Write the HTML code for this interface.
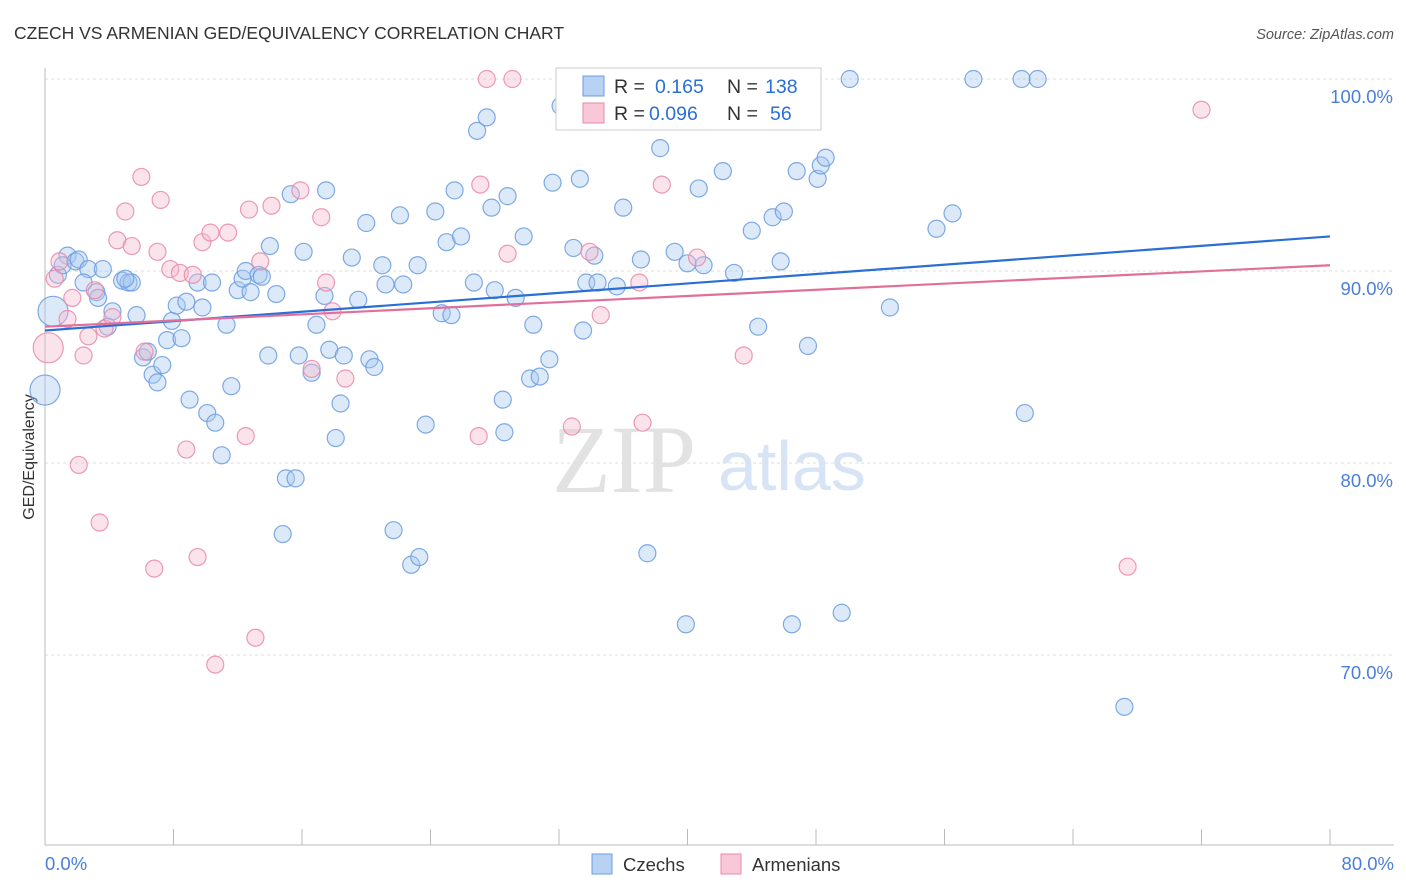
<!DOCTYPE html>
<html><head><meta charset="utf-8">
<style>
body{margin:0;background:#fff;font-family:"Liberation Sans",sans-serif;}
#wrap{position:relative;width:1406px;height:892px;overflow:hidden;}
</style></head>
<body>
<div id="wrap">
<svg id="svg" width="1406" height="892" xmlns="http://www.w3.org/2000/svg">
<text x="14" y="39" font-size="17.5" fill="#333">CZECH VS ARMENIAN GED/EQUIVALENCY CORRELATION CHART</text>
<text x="1394" y="39" font-size="14.5" fill="#555" font-style="italic" text-anchor="end">Source: ZipAtlas.com</text>
<text x="34" y="457" font-size="16" fill="#333" text-anchor="middle" transform="rotate(-90 34 457)">GED/Equivalency</text>
<g>
<text x="552" y="492" font-size="96" fill="#e2e2e2" font-family="Liberation Serif,serif">ZIP</text>
<text x="718" y="490" font-size="70" fill="#d6e4f5">atlas</text>
</g>
<g id="grid"></g>
<g id="pts"></g>
<g id="lines"></g>
<g>
<rect x="556" y="68" width="265" height="62" fill="#fff" stroke="#ccc"/>
<rect x="583" y="76" width="21" height="20" fill="#b8d2f4" stroke="#6a9be0"/>
<text x="614" y="93" font-size="19.5" fill="#333">R = </text>
<text x="655" y="93" font-size="19.5" fill="#2a6fd6">0.165</text>
<text x="727" y="93" font-size="19.5" fill="#333">N = </text>
<text x="765" y="93" font-size="19.5" fill="#2a6fd6">138</text>
<rect x="583" y="103" width="21" height="20" fill="#f8c8d8" stroke="#e88aa8"/>
<text x="614" y="120" font-size="19.5" fill="#333">R = </text>
<text x="649" y="120" font-size="19.5" fill="#2a6fd6">0.096</text>
<text x="727" y="120" font-size="19.5" fill="#333">N = </text>
<text x="770" y="120" font-size="19.5" fill="#2a6fd6">56</text>
</g>
<g>
<rect x="592" y="854" width="20" height="20" fill="#b8d2f4" stroke="#6a9be0"/>
<text x="623" y="871" font-size="18.5" fill="#333">Czechs</text>
<rect x="721" y="854" width="20" height="20" fill="#f8c8d8" stroke="#e88aa8"/>
<text x="752" y="871" font-size="18.5" fill="#333">Armenians</text>
</g>
</svg>
</div>
<script>
const yTicks=[100,90,80,70];
const yTickLabels=["100.0%","90.0%","80.0%","70.0%"];
const xTickCount=10;
const xLabels=["0.0%","80.0%"];
const czX=[0.5,0,0.8,1.4,1.1,1.9,2.1,2.7,2.4,3.2,3.3,3.6,4.2,3.9,4.8,5.2,5.4,5.0,5.7,6.1,6.4,6.7,7.0,7.3,7.6,7.9,8.2,8.5,8.8,9.0,9.5,9.8,10.1,10.4,10.6,11.0,11.3,11.6,12.0,12.3,12.5,12.8,13.3,13.5,13.9,14.0,14.4,14.8,15.0,15.3,15.6,15.8,16.1,16.6,16.9,17.4,17.5,17.7,18.1,18.4,18.6,19.1,19.5,20.0,20.2,20.5,21.0,21.2,21.7,22.1,22.3,22.8,23.2,23.3,23.7,24.3,24.7,25.0,25.3,25.5,25.9,26.7,26.9,27.5,27.8,28.0,28.5,28.6,28.8,29.3,29.8,30.2,30.4,30.8,31.4,31.6,32.1,32.9,33.3,33.5,33.7,34.2,34.4,35.6,36.0,36.1,37.1,37.5,38.3,39.2,39.9,40.0,40.7,41.0,42.2,42.9,44.0,44.4,45.3,45.8,46.0,46.5,46.8,47.5,48.1,48.3,48.6,49.6,50.1,52.6,55.5,56.5,57.8,60.8,61.0,61.8,67.2];
const czY=[87.9,83.8,89.8,90.8,90.3,90.5,90.6,90.1,89.4,88.9,88.6,90.1,87.9,87.1,89.5,89.4,89.4,89.6,87.7,85.5,85.8,84.6,84.2,85.1,86.4,87.4,88.2,86.5,88.4,83.3,89.4,88.1,82.6,89.4,82.1,80.4,87.2,84.0,89.0,89.6,90.0,88.9,89.8,89.7,85.6,91.3,88.8,76.3,79.2,94.0,79.2,85.6,91.0,84.7,87.2,88.7,94.2,85.9,81.3,83.1,85.6,90.7,88.5,92.5,85.4,85.0,90.3,89.3,76.5,92.9,89.3,74.7,90.3,75.1,82.0,93.1,87.8,91.5,87.7,94.2,91.8,89.4,97.3,98.0,93.3,89.0,83.3,81.6,93.9,88.6,91.8,84.4,87.2,84.5,85.4,94.6,98.6,91.2,94.8,86.9,89.4,90.8,89.4,89.2,93.3,100,90.6,75.3,96.4,91.0,71.6,90.4,94.3,90.3,95.2,89.9,92.1,87.1,92.8,90.5,93.1,71.6,95.2,86.1,94.8,95.5,95.9,72.2,100,88.1,92.2,93.0,100,100,82.6,100,67.3];
const arX=[0.2,0.6,0.9,1.4,1.7,2.1,2.7,2.4,3.1,3.4,3.7,4.2,4.5,5.0,5.4,6.0,6.2,6.8,7.0,7.2,7.8,8.4,8.8,9.2,9.5,9.8,10.3,10.6,11.4,12.5,12.7,13.1,13.4,14.1,15.9,16.6,17.2,17.5,17.9,18.7,27.0,27.1,27.5,28.8,29.1,32.8,33.9,34.6,37.0,37.2,38.4,40.6,43.5,67.4,72.0];
const arY=[86.0,89.6,90.5,87.5,88.6,79.9,86.6,85.6,89.0,76.9,87.0,87.6,91.6,93.1,91.3,94.9,85.8,74.5,91.0,93.7,90.1,89.9,80.7,89.8,75.1,91.5,92.0,69.5,92.0,81.4,93.2,70.9,90.5,93.4,94.2,84.9,92.8,89.4,87.9,84.4,81.4,94.5,100,90.9,100,81.9,91.0,87.7,89.4,82.1,94.5,90.7,85.6,74.6,98.4];
const czBig=[0,1];
const arBig=[0];
const czLine=[86.9,91.8];
const arLine=[87.1,90.3];
const X0=45,X1=1330,Y100=79,PX10=192;
function sx(v){return X0+(v/80)*(X1-X0);}
function sy(v){return Y100+(100-v)/10*PX10;}
const NS="http://www.w3.org/2000/svg";
function mk(t,a,p){const e=document.createElementNS(NS,t);for(const k in a)e.setAttribute(k,a[k]);p.appendChild(e);return e;}
const grid=document.getElementById('grid');
yTicks.forEach((v,i)=>{
  const l=mk('line',{x1:45,x2:1394,y1:sy(v),y2:sy(v),stroke:'#ddd','stroke-dasharray':'3,3'},grid);
  
  
  const t=mk('text',{x:1393,y:sy(v)+24,'font-size':18.5,fill:'#4a7fd8','text-anchor':'end'},grid);
  t.textContent=yTickLabels[i];
  
  
});
const ax=mk('line',{x1:45,x2:45,y1:68,y2:845,stroke:'#bbb'},grid);


const bx=mk('line',{x1:45,x2:1394,y1:845,y2:845,stroke:'#bbb'},grid);


for(let i=0;i<=xTickCount;i++){
  const v=i*80/xTickCount;
  const t=mk('line',{x1:sx(v),x2:sx(v),y1:829,y2:845,stroke:'#bbb'},grid);
  
  
}
[[0,'start',45],[80,'end',1394]].forEach((d,i)=>{
  const t=mk('text',{x:d[2],y:870,'font-size':18.5,fill:'#4a7fd8','text-anchor':d[1]},grid);
  t.textContent=xLabels[i];
  
  
});
const pts=document.getElementById('pts');
function series(xs,ys,big,fill,stroke,name){
  xs.forEach((x,i)=>{
    const r=big.includes(i)?15:8.5;
    const c=mk('circle',{cx:sx(x),cy:sy(ys[i]),r:r,fill:fill,'fill-opacity':0.4,stroke:stroke,'stroke-width':1.2,'stroke-opacity':0.85},pts);
    
    
  });
}
series(czX,czY,czBig,'#a8c8f0','#6a9be0','czech-point');
series(arX,arY,arBig,'#f5b8cc','#e88aa8','armenian-point');
const lines=document.getElementById('lines');
const l1=mk('line',{x1:sx(0),y1:sy(czLine[0]),x2:sx(80),y2:sy(czLine[1]),stroke:'#2a6fd6','stroke-width':2.2},lines);


const l2=mk('line',{x1:sx(0),y1:sy(arLine[0]),x2:sx(80),y2:sy(arLine[1]),stroke:'#e0709a','stroke-width':2.2},lines);


</script>
</body></html>
